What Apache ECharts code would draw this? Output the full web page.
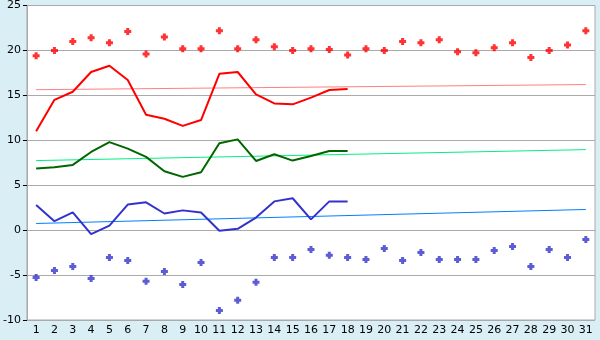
<!DOCTYPE html>
<html>
<head>
<meta charset="utf-8">
<script src="https://cdn.jsdelivr.net/npm/echarts@6/dist/echarts.min.js"></script>
<style>
html,body{margin:0;padding:0;background:#d9eff5;}
#c{width:600px;height:340px;}
</style>
</head>
<body>
<div id="c"></div>
<script>
var days = [];
for (var d = 1; d <= 31; d++) days.push(String(d));
var yTicks = [-10, -5, 0, 5, 10, 15, 20, 25];

var maxDots = [19.4, 20.0, 21.0, 21.4, 20.85, 22.1, 19.6, 21.5, 20.2, 20.2, 22.2, 20.2, 21.2, 20.4, 20.0, 20.2, 20.1, 19.5, 20.2, 20.0, 21.0, 20.85, 21.2, 19.85, 19.75, 20.3, 20.85, 19.2, 20.0, 20.6, 22.2];
var minDots = [-5.26, -4.5, -4.04, -5.37, -3.04, -3.37, -5.7, -4.6, -6.04, -3.6, -8.93, -7.8, -5.8, -3.04, -3.04, -2.15, -2.8, -3.04, -3.26, -2.04, -3.37, -2.48, -3.26, -3.26, -3.26, -2.26, -1.81, -4.04, -2.15, -3.04, -1.04];
var maxLine = [11.0, 14.5, 15.4, 17.6, 18.3, 16.7, 12.85, 12.4, 11.6, 12.25, 17.4, 17.6, 15.1, 14.1, 14.0, 14.75, 15.6, 15.7];
var meanLine = [6.85, 7.0, 7.26, 8.7, 9.8, 9.07, 8.15, 6.55, 5.93, 6.45, 9.67, 10.1, 7.7, 8.44, 7.74, 8.26, 8.8, 8.8];
var minLine = [2.8, 1.0, 1.97, -0.45, 0.5, 2.85, 3.1, 1.85, 2.2, 1.97, -0.07, 0.15, 1.4, 3.2, 3.55, 1.2, 3.2, 3.2];
var maxTrendEnds = [15.63, 16.2];
var meanTrendEnds = [7.74, 8.96];
var minTrendEnds = [0.74, 2.3];

function trend(ends) {
  var a = [];
  for (var i = 0; i < days.length; i++) a.push(null);
  a[0] = ends[0];
  a[days.length - 1] = ends[1];
  return a;
}

var plus = 'path://M2,0H5V2H7V5H5V7H2V5H0V2H2Z';
var font = 'DejaVu Sans';

var chart = echarts.init(document.getElementById('c'), null, {renderer: 'canvas'});
chart.setOption({
  animation: false,
  backgroundColor: '#d9eff5',
  grid: {left: 26, right: 5, top: 5, bottom: 20, show: true, backgroundColor: '#ffffff', borderColor: '#aaaaaa', borderWidth: 1},
  xAxis: {
    type: 'category',
    data: days,
    boundaryGap: true,
    axisLine: {lineStyle: {color: '#aaaaaa'}},
    axisTick: {alignWithLabel: true, length: 5, lineStyle: {color: '#000000'}},
    axisLabel: {color: '#000000', fontFamily: font, fontSize: 11, margin: 5, interval: 0},
    splitLine: {show: false}
  },
  yAxis: {
    type: 'value',
    min: yTicks[0], max: yTicks[yTicks.length - 1], interval: 5,
    axisLine: {show: true, lineStyle: {color: '#aaaaaa'}},
    axisTick: {show: true, length: 4, lineStyle: {color: '#000000'}},
    axisLabel: {color: '#000000', fontFamily: font, fontSize: 11, margin: 6},
    splitLine: {show: true, lineStyle: {color: '#aaaaaa', width: 1}}
  },
  series: [
    {type: 'line', data: trend(maxTrendEnds), connectNulls: true, showSymbol: false, lineStyle: {color: '#ff8080', width: 1}, z: 2},
    {type: 'line', data: trend(meanTrendEnds), connectNulls: true, showSymbol: false, lineStyle: {color: '#00f080', width: 1}, z: 2},
    {type: 'line', data: trend(minTrendEnds), connectNulls: true, showSymbol: false, lineStyle: {color: '#0080ff', width: 1}, z: 2},
    {type: 'line', data: maxLine, showSymbol: false, lineStyle: {color: '#ff0000', width: 2}, z: 3},
    {type: 'line', data: meanLine, showSymbol: false, lineStyle: {color: '#006600', width: 2}, z: 3},
    {type: 'line', data: minLine, showSymbol: false, lineStyle: {color: '#3333cc', width: 2}, z: 3},
    {type: 'scatter', data: maxDots, symbol: plus, symbolSize: 7, itemStyle: {color: '#ff0000'}, z: 4},
    {type: 'scatter', data: minDots, symbol: plus, symbolSize: 7, itemStyle: {color: '#3333cc'}, z: 4}
  ]
});
</script>
</body>
</html>
